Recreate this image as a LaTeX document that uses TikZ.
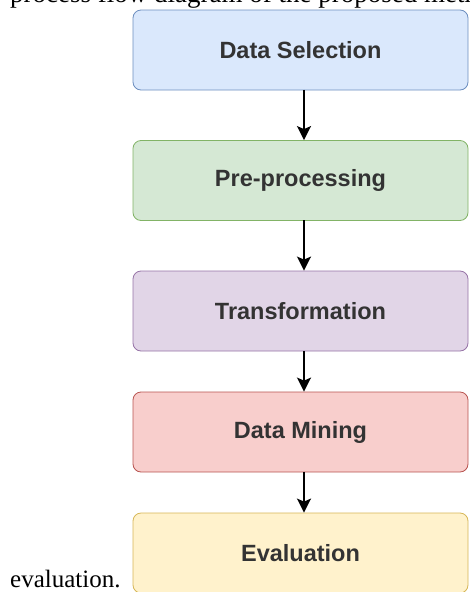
\documentclass[tikz,border=0pt]{standalone}
\usepackage{fontspec}
\setmainfont{Liberation Serif}
\newfontfamily\stagefont{Liberation Sans}
\usetikzlibrary{arrows.meta,positioning}

\definecolor{selfill}{HTML}{DAE8FC}
\definecolor{seldraw}{HTML}{6C8EBF}
\definecolor{prefill}{HTML}{D5E8D4}
\definecolor{predraw}{HTML}{82B366}
\definecolor{trafill}{HTML}{E1D5E7}
\definecolor{tradraw}{HTML}{9673A6}
\definecolor{minfill}{HTML}{F8CECC}
\definecolor{mindraw}{HTML}{B85450}
\definecolor{evafill}{HTML}{FFF2CC}
\definecolor{evadraw}{HTML}{D6B656}
\definecolor{stagetext}{HTML}{333333}

\begin{document}
\begin{tikzpicture}[x=1pt,y=-1pt,
    stage/.style={draw, rounded corners=8pt, line width=0.8pt,
        minimum width=335pt, minimum height=80pt, inner sep=0pt,
        text=stagetext, font=\stagefont\bfseries\fontsize{23.5}{28}\selectfont},
    flow/.style={-{Stealth[length=14pt,width=14pt,inset=3pt]}, line width=1.9pt,
        shorten <=-0.5pt},
    paper/.style={inner sep=0pt, font=\fontsize{27}{32}\selectfont}]
    \useasboundingbox (0,0) rectangle (469,592);

    % surrounding text of the paper
    \begin{scope}
        \clip (0,0) rectangle (469,592);
        \node[paper, anchor=base west] (intro) at (10,2.5) {process flow diagram of the proposed method};
        \node[paper, anchor=base west, font=\fontsize{25}{30}\selectfont] (outro) at (10,587) {evaluation.};
    \end{scope}

    % the five stages
    \node[stage, fill=selfill, draw=seldraw] (selection) at (300.5,50) {Data Selection};
    \node[stage, fill=prefill, draw=predraw] (preproc) at (300.5,180.5) {Pre-processing};
    \node[stage, fill=trafill, draw=tradraw] (transform) at (300.5,311) {Transformation};
    \node[stage, fill=minfill, draw=mindraw] (mining) at (300.5,432) {Data Mining};
    \node[stage, fill=evafill, draw=evadraw] (evaluation) at (300.5,553) {Evaluation};

    % arrows sit a little right of the centre line
    \draw[flow] ([xshift=3.5pt]selection.south) -- ([xshift=3.5pt]preproc.north);
    \draw[flow] ([xshift=3.5pt]preproc.south) -- ([xshift=3.5pt]transform.north);
    \draw[flow] ([xshift=3.5pt]transform.south) -- ([xshift=3.5pt]mining.north);
    \draw[flow] ([xshift=3.5pt]mining.south) -- ([xshift=3.5pt]evaluation.north);
\end{tikzpicture}
\end{document}
